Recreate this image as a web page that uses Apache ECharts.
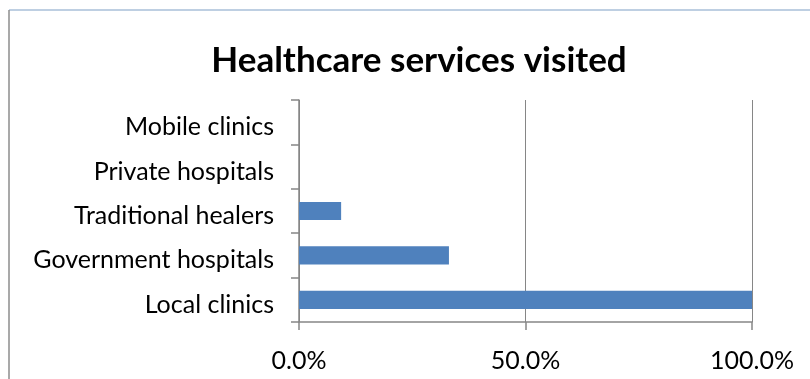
<!DOCTYPE html>
<html>
<head>
<meta charset="utf-8">
<script src="https://cdn.jsdelivr.net/npm/echarts@6/dist/echarts.min.js"></script>
<style>
  html, body { margin: 0; padding: 0; background: #fff; }
  #chart { width: 810px; height: 379px; }
</style>
</head>
<body>
<div id="chart"></div>
<script>
// Services, listed bottom-to-top as they appear on the category axis
const categories = ['Local clinics', 'Government hospitals', 'Traditional healers', 'Private hospitals', 'Mobile clinics'];
// Share of respondents visiting each service (%)
const visitedPct = [100, 33.1, 9.3, 0, 0];
// Value-axis tick positions (%)
const xTicks = [0, 50, 100];

const labelFont = 'Lato, "Open Sans", sans-serif';
const axisGray = '#868686';

const chart = echarts.init(document.getElementById('chart'), null, { renderer: 'canvas' });
chart.setOption({
  animation: false,
  backgroundColor: '#fff',
  title: {
    text: 'Healthcare services visited',
    left: 414,
    top: 38,
    textAlign: 'center',
    textStyle: { fontFamily: labelFont, fontSize: 35, fontWeight: 'bold', color: '#000' }
  },
  graphic: [
    { type: 'line', shape: { x1: 9, y1: 10, x2: 810, y2: 10 }, style: { stroke: '#a8bfd8', lineWidth: 1.5 } },
    { type: 'line', shape: { x1: 9, y1: 10, x2: 9, y2: 379 }, style: { stroke: '#8c8c8c', lineWidth: 1.5 } }
  ],
  grid: { left: 299, top: 100, width: 453, height: 222, containLabel: false },
  xAxis: {
    type: 'value',
    min: xTicks[0],
    max: xTicks[xTicks.length - 1],
    interval: xTicks[1] - xTicks[0],
    axisLine: { show: true, lineStyle: { color: axisGray, width: 1.5 } },
    axisTick: { show: true, length: 8, lineStyle: { color: axisGray, width: 1.5 } },
    splitLine: { show: true, lineStyle: { color: axisGray, width: 1 } },
    axisLabel: {
      margin: 26,
      formatter: v => v.toFixed(1) + '%',
      fontFamily: labelFont, fontSize: 25, color: '#000'
    }
  },
  yAxis: {
    type: 'category',
    data: categories,
    boundaryGap: true,
    axisLine: { show: true, lineStyle: { color: axisGray, width: 1.5 } },
    axisTick: { show: true, length: 8, alignWithLabel: false, lineStyle: { color: axisGray, width: 1.5 } },
    axisLabel: {
      margin: 25,
      formatter: v => '{c|' + v + '}',
      rich: { c: { fontFamily: labelFont, fontSize: 25, color: '#000', padding: [10, 0, 0, 0] } }
    }
  },
  series: [{
    type: 'bar',
    data: visitedPct,
    barWidth: '41%',
    itemStyle: { color: '#4f81bd' }
  }]
});
</script>
</body>
</html>
